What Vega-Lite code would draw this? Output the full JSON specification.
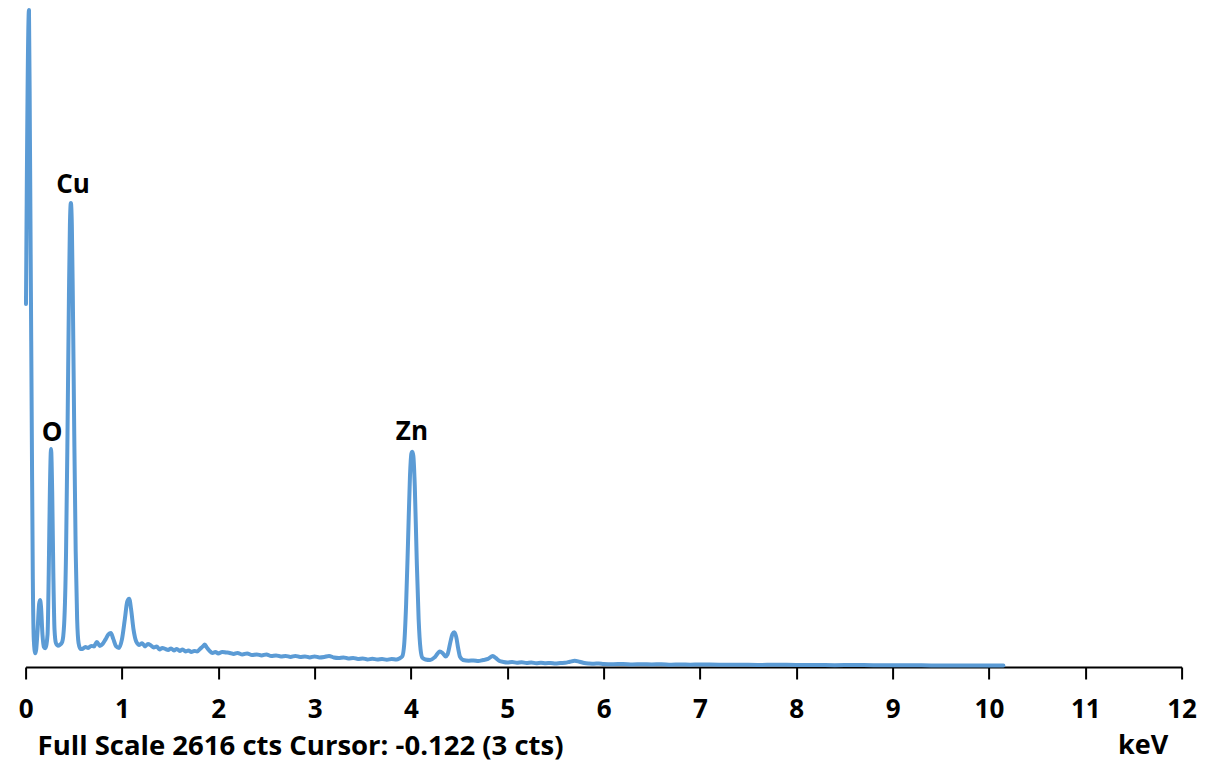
{
  "$schema": "https://vega.github.io/schema/vega-lite/v6.json",
  "width": 1156,
  "height": 657,
  "autosize": "none",
  "padding": {"left": 25.6, "top": 10, "right": 23.4, "bottom": 97},
  "background": "white",
  "config": {"view": {"stroke": null}, "font": "Open Sans"},
  "title": {
    "text": "Full Scale 2616 cts Cursor: -0.122 (3 cts)",
    "orient": "bottom",
    "anchor": "start",
    "frame": "group",
    "fontSize": 27.5,
    "fontWeight": "bold",
    "color": "black",
    "font": "Open Sans",
    "offset": -25,
    "dx": 12
  },
  "datasets": {
    "spectrum": [
      {"e": 0.004, "c": 1445}, {"e": 0.035, "c": 2616}, {"e": 0.045, "c": 2100}, {"e": 0.055, "c": 1500},
      {"e": 0.065, "c": 900}, {"e": 0.075, "c": 350}, {"e": 0.085, "c": 110}, {"e": 0.1, "c": 55},
      {"e": 0.11, "c": 70}, {"e": 0.125, "c": 150}, {"e": 0.14, "c": 250}, {"e": 0.15, "c": 267},
      {"e": 0.16, "c": 240}, {"e": 0.175, "c": 130}, {"e": 0.19, "c": 80}, {"e": 0.205, "c": 75},
      {"e": 0.228, "c": 130}, {"e": 0.24, "c": 370}, {"e": 0.252, "c": 700}, {"e": 0.264, "c": 868},
      {"e": 0.276, "c": 700}, {"e": 0.288, "c": 370}, {"e": 0.3, "c": 150}, {"e": 0.315, "c": 95},
      {"e": 0.335, "c": 85}, {"e": 0.355, "c": 88}, {"e": 0.38, "c": 100}, {"e": 0.4, "c": 170},
      {"e": 0.42, "c": 460}, {"e": 0.435, "c": 930}, {"e": 0.45, "c": 1480}, {"e": 0.46, "c": 1760},
      {"e": 0.47, "c": 1848}, {"e": 0.48, "c": 1760}, {"e": 0.49, "c": 1480}, {"e": 0.505, "c": 930},
      {"e": 0.52, "c": 460}, {"e": 0.535, "c": 190}, {"e": 0.55, "c": 95}, {"e": 0.57, "c": 72},
      {"e": 0.59, "c": 72}, {"e": 0.62, "c": 80}, {"e": 0.65, "c": 76}, {"e": 0.68, "c": 84},
      {"e": 0.71, "c": 82}, {"e": 0.74, "c": 100}, {"e": 0.77, "c": 84}, {"e": 0.8, "c": 92},
      {"e": 0.83, "c": 110}, {"e": 0.86, "c": 130}, {"e": 0.885, "c": 135}, {"e": 0.91, "c": 112},
      {"e": 0.94, "c": 82}, {"e": 0.97, "c": 76}, {"e": 1.0, "c": 110}, {"e": 1.03, "c": 190},
      {"e": 1.055, "c": 260}, {"e": 1.075, "c": 272}, {"e": 1.095, "c": 230}, {"e": 1.12, "c": 150},
      {"e": 1.15, "c": 100}, {"e": 1.18, "c": 88}, {"e": 1.21, "c": 95}, {"e": 1.24, "c": 82},
      {"e": 1.27, "c": 92}, {"e": 1.3, "c": 86}, {"e": 1.33, "c": 78}, {"e": 1.36, "c": 82},
      {"e": 1.39, "c": 70}, {"e": 1.42, "c": 76}, {"e": 1.45, "c": 72}, {"e": 1.48, "c": 68},
      {"e": 1.51, "c": 74}, {"e": 1.54, "c": 66}, {"e": 1.57, "c": 72}, {"e": 1.6, "c": 64},
      {"e": 1.63, "c": 70}, {"e": 1.66, "c": 62}, {"e": 1.69, "c": 66}, {"e": 1.72, "c": 60},
      {"e": 1.75, "c": 64}, {"e": 1.78, "c": 62}, {"e": 1.81, "c": 72}, {"e": 1.84, "c": 82},
      {"e": 1.86, "c": 90}, {"e": 1.88, "c": 78}, {"e": 1.91, "c": 64}, {"e": 1.94, "c": 56},
      {"e": 1.97, "c": 60}, {"e": 2.0, "c": 54}, {"e": 2.04, "c": 60}, {"e": 2.08, "c": 58},
      {"e": 2.12, "c": 56}, {"e": 2.16, "c": 52}, {"e": 2.2, "c": 56}, {"e": 2.25, "c": 50},
      {"e": 2.3, "c": 54}, {"e": 2.35, "c": 48}, {"e": 2.4, "c": 50}, {"e": 2.45, "c": 46},
      {"e": 2.5, "c": 50}, {"e": 2.55, "c": 44}, {"e": 2.6, "c": 46}, {"e": 2.65, "c": 42},
      {"e": 2.7, "c": 44}, {"e": 2.75, "c": 40}, {"e": 2.8, "c": 44}, {"e": 2.85, "c": 40},
      {"e": 2.9, "c": 42}, {"e": 2.95, "c": 38}, {"e": 3.0, "c": 42}, {"e": 3.05, "c": 38},
      {"e": 3.1, "c": 40}, {"e": 3.15, "c": 44}, {"e": 3.2, "c": 38}, {"e": 3.25, "c": 36},
      {"e": 3.3, "c": 38}, {"e": 3.35, "c": 34}, {"e": 3.4, "c": 36}, {"e": 3.45, "c": 32},
      {"e": 3.5, "c": 34}, {"e": 3.55, "c": 30}, {"e": 3.6, "c": 33}, {"e": 3.65, "c": 30},
      {"e": 3.7, "c": 32}, {"e": 3.75, "c": 29}, {"e": 3.8, "c": 32}, {"e": 3.85, "c": 30},
      {"e": 3.88, "c": 34}, {"e": 3.91, "c": 42}, {"e": 3.93, "c": 90}, {"e": 3.95, "c": 250},
      {"e": 3.97, "c": 500}, {"e": 3.99, "c": 760}, {"e": 4.005, "c": 850}, {"e": 4.015, "c": 857},
      {"e": 4.025, "c": 840}, {"e": 4.04, "c": 720}, {"e": 4.06, "c": 430}, {"e": 4.08, "c": 190},
      {"e": 4.1, "c": 70}, {"e": 4.12, "c": 36}, {"e": 4.15, "c": 30}, {"e": 4.2, "c": 28},
      {"e": 4.25, "c": 40}, {"e": 4.3, "c": 62}, {"e": 4.33, "c": 55}, {"e": 4.36, "c": 42},
      {"e": 4.38, "c": 50}, {"e": 4.41, "c": 100}, {"e": 4.43, "c": 130}, {"e": 4.45, "c": 138},
      {"e": 4.47, "c": 120}, {"e": 4.49, "c": 75}, {"e": 4.51, "c": 40}, {"e": 4.54, "c": 28},
      {"e": 4.6, "c": 25}, {"e": 4.65, "c": 26}, {"e": 4.7, "c": 24}, {"e": 4.75, "c": 28},
      {"e": 4.8, "c": 32}, {"e": 4.85, "c": 44}, {"e": 4.88, "c": 36}, {"e": 4.92, "c": 24},
      {"e": 4.96, "c": 20}, {"e": 5.0, "c": 18}, {"e": 5.05, "c": 20}, {"e": 5.1, "c": 17},
      {"e": 5.15, "c": 19}, {"e": 5.2, "c": 16}, {"e": 5.25, "c": 18}, {"e": 5.3, "c": 15},
      {"e": 5.35, "c": 17}, {"e": 5.4, "c": 15}, {"e": 5.45, "c": 16}, {"e": 5.5, "c": 14},
      {"e": 5.55, "c": 16}, {"e": 5.6, "c": 17}, {"e": 5.65, "c": 21}, {"e": 5.7, "c": 25},
      {"e": 5.75, "c": 21}, {"e": 5.8, "c": 16}, {"e": 5.85, "c": 14}, {"e": 5.9, "c": 13},
      {"e": 5.95, "c": 14}, {"e": 6.0, "c": 12}, {"e": 6.1, "c": 11}, {"e": 6.2, "c": 12},
      {"e": 6.3, "c": 10}, {"e": 6.4, "c": 11}, {"e": 6.5, "c": 10}, {"e": 6.6, "c": 11},
      {"e": 6.7, "c": 9}, {"e": 6.8, "c": 10}, {"e": 6.9, "c": 9}, {"e": 7.0, "c": 10},
      {"e": 7.2, "c": 9}, {"e": 7.4, "c": 9}, {"e": 7.6, "c": 8}, {"e": 7.8, "c": 9},
      {"e": 8.0, "c": 8}, {"e": 8.2, "c": 8}, {"e": 8.4, "c": 7}, {"e": 8.6, "c": 8},
      {"e": 8.8, "c": 7}, {"e": 9.0, "c": 7}, {"e": 9.2, "c": 7}, {"e": 9.4, "c": 6},
      {"e": 9.6, "c": 6}, {"e": 9.8, "c": 6}, {"e": 10.0, "c": 6}, {"e": 10.15, "c": 6}
    ],
    "labels": [
      {"e": 0.274, "c": 932, "label": "O"},
      {"e": 0.492, "c": 1919, "label": "Cu"},
      {"e": 4.01, "c": 936, "label": "Zn"}
    ]
  },
  "layer": [
    {
      "data": {"name": "spectrum"},
      "mark": {"type": "line", "color": "#5b9bd5", "strokeWidth": 4, "interpolate": "monotone", "clip": false, "strokeJoin": "round", "strokeCap": "round"},
      "encoding": {
        "x": {
          "field": "e", "type": "quantitative",
          "scale": {"domain": [0, 12], "nice": false, "zero": false},
          "axis": {
            "values": [0, 1, 2, 3, 4, 5, 6, 7, 8, 9, 10, 11, 12],
            "format": "d",
            "domain": true, "domainColor": "black", "domainWidth": 2,
            "ticks": true, "tickColor": "black", "tickWidth": 2, "tickSize": 12,
            "labelFontSize": 26, "labelFontWeight": "bold", "labelColor": "black", "labelFont": "Open Sans",
            "labelPadding": 17, "labelFlush": false, "labelOverlap": false,
            "grid": false,
            "title": "keV", "titleFontSize": 27, "titleFontWeight": "bold", "titleColor": "black", "titleFont": "Open Sans",
            "titleX": 1117, "titleY": 78, "titleAlign": "center", "titleBaseline": "middle", "titleAnchor": null
          }
        },
        "y": {
          "field": "c", "type": "quantitative",
          "scale": {"domain": [0, 2616], "nice": false, "zero": true},
          "axis": null
        }
      }
    },
    {
      "data": {"name": "labels"},
      "mark": {"type": "text", "fontSize": 26, "fontWeight": "bold", "color": "black", "font": "Open Sans", "baseline": "middle", "align": "center"},
      "encoding": {
        "x": {"field": "e", "type": "quantitative"},
        "y": {"field": "c", "type": "quantitative"},
        "text": {"field": "label"}
      }
    }
  ]
}
